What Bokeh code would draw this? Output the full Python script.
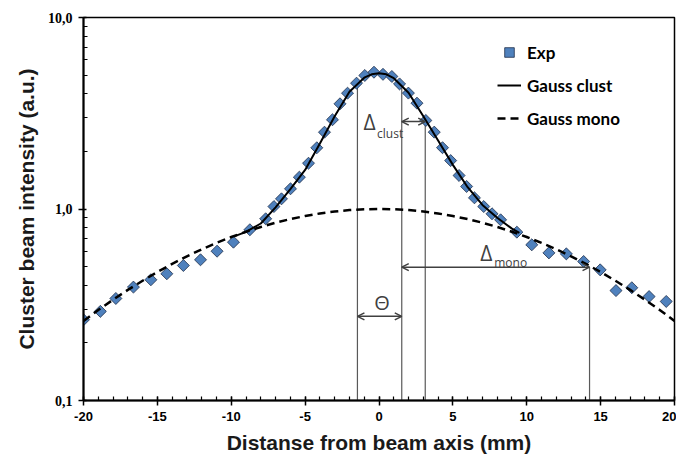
from bokeh.plotting import figure
from bokeh.models import (FixedTicker, CustomJSTickFormatter, Arrow, OpenHead, Label, Range1d)
from bokeh.embed import file_html
from bokeh.resources import INLINE

# ---- data ----
exp_x = [-20.0, -18.86, -17.81, -16.62, -15.44, -14.36, -13.24, -12.08, -10.96, -9.85,
         -8.74, -7.67, -7.11, -6.60, -5.99, -5.39, -4.77, -4.21, -3.69, -3.15,
         -2.64, -2.13, -1.52, -0.96, -0.34, 0.27, 0.87, 1.39, 1.99, 2.57,
         3.17, 3.74, 4.30, 4.85, 5.42, 5.93, 6.46, 7.09, 7.65, 8.23,
         9.33, 10.34, 11.50, 12.68, 13.85, 14.97, 16.04, 17.11, 18.28, 19.44]
exp_y = [0.264, 0.292, 0.341, 0.391, 0.427, 0.459, 0.507, 0.543, 0.602, 0.671,
         0.779, 0.889, 1.03, 1.13, 1.275, 1.466, 1.734, 2.088, 2.518, 2.924,
         3.542, 4.025, 4.54, 4.98, 5.18, 5.05, 4.92, 4.50, 4.03, 3.57,
         2.90, 2.52, 2.09, 1.79, 1.496, 1.311, 1.144, 1.03, 0.944, 0.878,
         0.757, 0.650, 0.590, 0.583, 0.532, 0.481, 0.375, 0.388, 0.349, 0.329]

clust_x = [-9.8, -9, -8, -7, -6, -5, -4, -3, -2, -1, -0.5, 0, 0.5, 1, 2, 3, 4, 5, 6, 7, 8, 9, 9.5]
clust_y = [0.72, 0.76, 0.84, 1.02, 1.27, 1.60, 2.20, 3.05, 4.10, 4.85, 5.05, 5.12, 5.05, 4.82,
           4.05, 3.05, 2.28, 1.70, 1.30, 1.05, 0.90, 0.79, 0.75]

mono_x = list(range(-20, 21))
mono_y = [0.260, 0.297, 0.336, 0.378, 0.422, 0.469, 0.517, 0.566, 0.616, 0.665,
          0.714, 0.761, 0.806, 0.848, 0.886, 0.919, 0.948, 0.970, 0.987, 0.997,
          1.000,
          0.997, 0.987, 0.970, 0.948, 0.919, 0.886, 0.848, 0.806, 0.761, 0.714,
          0.665, 0.616, 0.566, 0.517, 0.469, 0.422, 0.378, 0.336, 0.297, 0.260]

x_ticks = [-20, -15, -10, -5, 0, 5, 10, 15, 20]
x_minor = list(range(-20, 21))
y_ticks = [0.1, 1, 10]
y_minor = [0.2, 0.3, 0.4, 0.5, 0.6, 0.7, 0.8, 0.9, 2, 3, 4, 5, 6, 7, 8, 9]

# construction lines: x positions and top values
mark_x = [-1.46, 1.54, 3.13, 14.25]
mark_top = [4.40, 4.30, 2.97, 0.497]
# arrows: start x, end x, y
arrow_x0 = [-1.46, 1.54, 1.54]
arrow_x1 = [1.54, 3.13, 14.25]
arrow_y = [0.275, 2.86, 0.497]

p = figure(width=676, height=460, x_range=Range1d(-20, 20), y_range=Range1d(0.1, 10),
           y_axis_type="log", output_backend="svg", toolbar_location=None,
           min_border_left=83, min_border_right=2, min_border_top=17, min_border_bottom=60)
p.background_fill_color = "white"
p.border_fill_color = "white"
p.grid.visible = False
p.outline_line_color = "black"
p.outline_line_width = 1.5

# construction lines
p.segment(x0=mark_x, y0=[0.1] * len(mark_x), x1=mark_x, y1=mark_top,
          line_color="#595959", line_width=1.2)

p.scatter(exp_x, exp_y, marker="square", size=8.5, angle=0.785398,
          fill_color="#4F81BD", line_color="#1F2F4A", line_width=0.8, legend_label="Exp")
p.line(clust_x, clust_y, line_color="black", line_width=2, legend_label="Gauss clust")
p.line(mono_x, mono_y, line_color="black", line_width=2.5, line_dash="8 5",
       legend_label="Gauss mono")

for x0, x1, y in zip(arrow_x0, arrow_x1, arrow_y):
    p.add_layout(Arrow(x_start=x0, y_start=y, x_end=x1, y_end=y,
                       start=OpenHead(size=7, line_color="#404040", line_width=1.5),
                       end=OpenHead(size=7, line_color="#404040", line_width=1.5),
                       line_color="#404040", line_width=1.5))

ann_font = "Open Sans"
p.add_layout(Label(x=-1.05, y=2.83, text="Δ", text_font=ann_font, text_font_size="21px",
                   text_color="#404040", text_baseline="middle", text_align="left"))
p.add_layout(Label(x=-0.13, y=2.48, text="clust", text_font=ann_font, text_font_size="12px",
                   text_color="#404040", text_baseline="middle", text_align="left"))
p.add_layout(Label(x=6.85, y=0.59, text="Δ", text_font=ann_font, text_font_size="21px",
                   text_color="#404040", text_baseline="middle", text_align="left"))
p.add_layout(Label(x=7.8, y=0.528, text="mono", text_font=ann_font, text_font_size="12px",
                   text_color="#404040", text_baseline="middle", text_align="left"))
p.add_layout(Label(x=0.2, y=0.325, text="Θ", text_font=ann_font, text_font_size="20px",
                   text_color="#404040", text_baseline="middle", text_align="center"))

# axes
xa = p.xaxis[0]
xa.ticker = FixedTicker(ticks=x_ticks, minor_ticks=x_minor)
xa.formatter = CustomJSTickFormatter(code="return String(tick);")
xa.axis_label = "Distanse from beam axis (mm)"
xa.axis_label_text_font = "Liberation Sans"
xa.axis_label_text_font_style = "bold"
xa.axis_label_text_font_size = "21px"
xa.axis_label_text_color = "#1a1a1a"
xa.axis_label_standoff = 7
xa.major_label_text_font = "Liberation Sans"
xa.major_label_text_font_style = "bold"
xa.major_label_text_font_size = "13px"
xa.major_label_text_color = "black"
xa.major_label_standoff = 6
xa.axis_line_width = 2
xa.axis_line_color = "black"
xa.major_tick_in = 4
xa.major_tick_out = 5
xa.minor_tick_in = 4
xa.minor_tick_out = 0
xa.major_tick_line_width = 1.5
xa.minor_tick_line_width = 1.2
xa.major_tick_line_color = "black"
xa.minor_tick_line_color = "black"

ya = p.yaxis[0]
ya.ticker = FixedTicker(ticks=y_ticks, minor_ticks=y_minor)
ya.formatter = CustomJSTickFormatter(code="return tick.toFixed(1).replace('.', ',');")
ya.axis_label = "Cluster beam intensity (a.u.)"
ya.axis_label_text_font = "Liberation Sans"
ya.axis_label_text_font_style = "bold"
ya.axis_label_text_font_size = "21px"
ya.axis_label_text_color = "#1a1a1a"
ya.axis_label_standoff = 7
ya.major_label_text_font = "Liberation Serif"
ya.major_label_text_font_style = "bold"
ya.major_label_text_font_size = "14px"
ya.major_label_text_color = "black"
ya.major_label_standoff = 6
ya.axis_line_width = 2
ya.axis_line_color = "black"
ya.major_tick_in = 3
ya.major_tick_out = 5
ya.minor_tick_in = 4
ya.minor_tick_out = 0
ya.major_tick_line_width = 1.5
ya.minor_tick_line_width = 1.2
ya.major_tick_line_color = "black"
ya.minor_tick_line_color = "black"

# legend
lg = p.legend[0]
lg.location = (414, 269)
lg.label_text_font = "Lato"
lg.label_text_font_style = "bold"
lg.label_text_font_size = "17px"
lg.label_text_color = "black"
lg.border_line_color = None
lg.background_fill_alpha = 0
lg.padding = 0
lg.margin = 0
lg.spacing = 7
lg.glyph_width = 24
lg.glyph_height = 26
lg.label_height = 20
lg.label_standoff = 6

open("out.html", "w").write(file_html(p, INLINE))
